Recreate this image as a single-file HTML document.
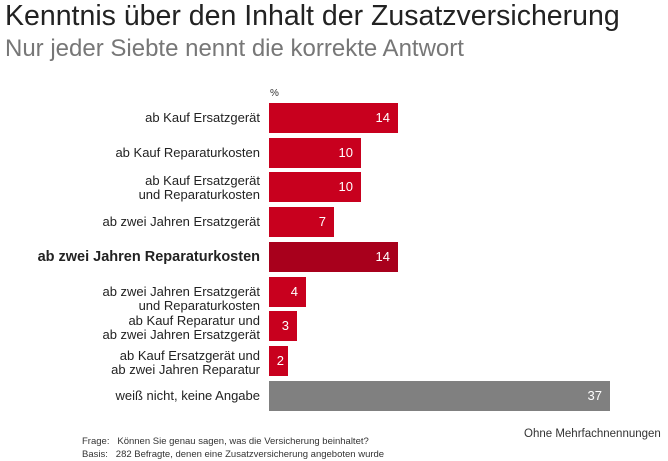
<!DOCTYPE html>
<html><head><meta charset="utf-8"><style>
body{margin:0;width:668px;height:461px;background:#fff;font-family:"Liberation Sans","DejaVu Sans",sans-serif;position:relative;overflow:hidden}
.t{position:absolute;left:5px;top:0px;font-size:28.5px;color:#222;white-space:nowrap}
.s{position:absolute;left:5px;top:35px;font-size:24px;color:#777;white-space:nowrap}
.l{position:absolute;right:408px;text-align:right;font-size:13px;color:#222;line-height:14px;white-space:nowrap}
.b{position:absolute;left:269px;height:30px;background:#c8001e;color:#fff;font-size:13px;text-align:right;box-sizing:border-box;padding-right:8px;line-height:30px}
.f{position:absolute;font-size:9.5px;color:#333;white-space:nowrap}
</style></head><body>
<div class="t">Kenntnis über den Inhalt der Zusatzversicherung</div>
<div class="s">Nur jeder Siebte nennt die korrekte Antwort</div>
<div class="f" style="left:270px;top:88px;font-size:10px">%</div>

<div class="l" style="top:111px">ab Kauf Ersatzgerät</div>
<div class="b" style="top:103px;width:129px">14</div>
<div class="l" style="top:146px">ab Kauf Reparaturkosten</div>
<div class="b" style="top:138px;width:92px">10</div>
<div class="l" style="top:174px">ab Kauf Ersatzgerät<br>und Reparaturkosten</div>
<div class="b" style="top:172px;width:92px">10</div>
<div class="l" style="top:215px">ab zwei Jahren Ersatzgerät</div>
<div class="b" style="top:207px;width:65px">7</div>
<div class="l" style="top:250px;font-weight:bold;font-size:14.5px">ab zwei Jahren Reparaturkosten</div>
<div class="b" style="top:242px;width:129px;background:#a8001c">14</div>
<div class="l" style="top:285px">ab zwei Jahren Ersatzgerät<br>und Reparaturkosten</div>
<div class="b" style="top:277px;width:37px">4</div>
<div class="l" style="top:314px">ab Kauf Reparatur und<br>ab zwei Jahren Ersatzgerät</div>
<div class="b" style="top:311px;width:28px">3</div>
<div class="l" style="top:349px">ab Kauf Ersatzgerät und<br>ab zwei Jahren Reparatur</div>
<div class="b" style="top:346px;width:19px;padding-right:4px">2</div>
<div class="l" style="top:389px">weiß nicht, keine Angabe</div>
<div class="b" style="top:381px;width:341px;background:#808080">37</div>

<div class="f" style="left:524px;top:428px;font-size:11.5px">Ohne Mehrfachnennungen</div>
<div class="f" style="left:82px;top:436px">Frage:&nbsp;&nbsp;&nbsp;Können Sie genau sagen, was die Versicherung beinhaltet?</div>
<div class="f" style="left:82px;top:449px">Basis:&nbsp;&nbsp;&nbsp;282 Befragte, denen eine Zusatzversicherung angeboten wurde</div>
</body></html>
